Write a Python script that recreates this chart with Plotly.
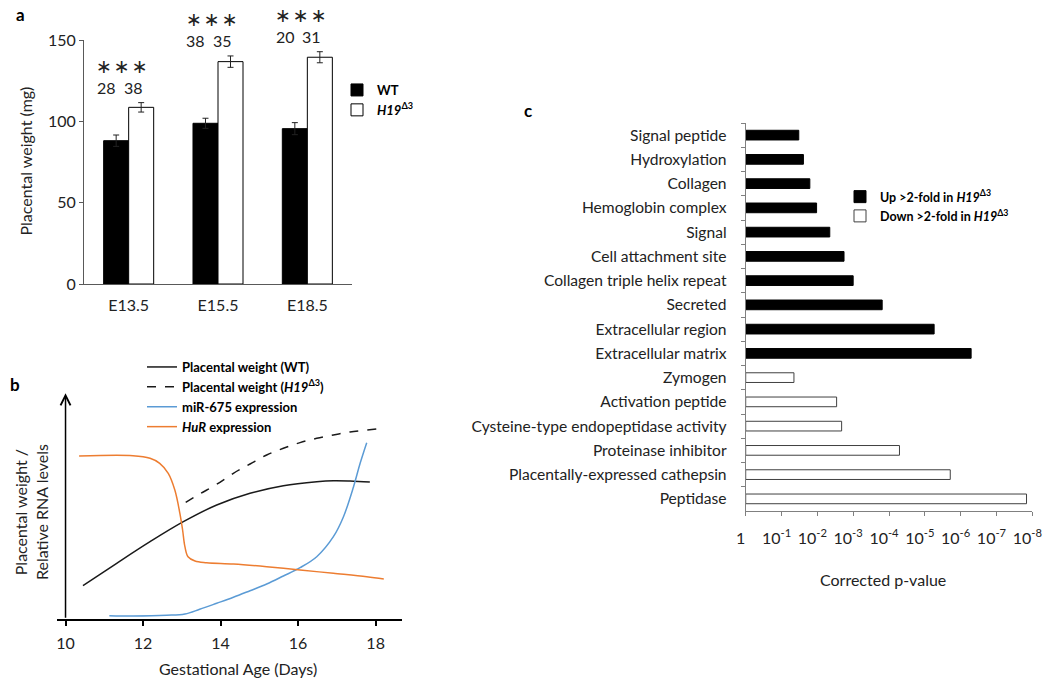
import plotly.graph_objects as go
import numpy as np

FONT = "Lato, Open Sans, sans-serif"

# ---------------- Panel a data ----------------
stages = ["E13.5", "E15.5", "E18.5"]
wt_weight = [88.1, 98.8, 95.5]
wt_err = [3.5, 3.1, 3.7]
h19_weight = [108.6, 136.7, 139.4]
h19_err = [2.9, 3.5, 3.4]
wt_n = [28, 38, 20]
h19_n = [38, 35, 31]
signif = ["∗∗∗", "∗∗∗", "∗∗∗"]
weight_max = 150

# ---------------- Panel b data (relative units) ----------------
wt_day = [10.45, 11.32, 12.18, 13.04, 13.90, 14.76, 15.62, 16.48, 16.91, 17.34, 17.85]
wt_level = [33.6, 56.0, 77.6, 97.6, 114.3, 126.0, 133.6, 137.6, 138.6, 138.3, 137.3]

h19_day = [13.10, 13.46, 13.90, 14.33, 14.76, 15.19, 15.62, 16.05, 16.48, 16.91, 17.34, 18.03]
h19_level = [117.0, 125.3, 135.0, 146.0, 155.3, 164.3, 171.0, 176.7, 181.0, 184.3, 187.3, 190.3]

mir_day = [11.13, 11.74, 12.61, 13.08, 13.46, 13.90, 14.33, 14.76, 15.19, 15.62, 16.05, 16.48, 16.91, 17.17, 17.43, 17.60, 17.77]
mir_level = [3.6, 3.3, 4.0, 5.3, 10.0, 16.0, 22.0, 28.6, 35.3, 43.3, 51.6, 62.6, 82.6, 102.6, 132.6, 156.0, 176.6]

hur_day = [10.35, 11.74, 12.18, 12.43, 12.65, 12.82, 12.95, 13.02, 13.08, 13.16, 13.34, 13.64, 14.33, 15.19, 16.05, 16.91, 17.77, 18.21]
hur_level = [163.3, 163.6, 161.0, 156.0, 146.0, 129.3, 106.0, 89.3, 72.6, 62.6, 58.3, 56.6, 55.3, 52.6, 49.3, 46.0, 42.6, 40.3]
level_max = 226

# ---------------- Panel c data ----------------
up_terms = ["Signal peptide", "Hydroxylation", "Collagen", "Hemoglobin complex", "Signal",
            "Cell attachment site", "Collagen triple helix repeat", "Secreted",
            "Extracellular region", "Extracellular matrix"]
up_pvalue = [3.3e-2, 2.45e-2, 1.62e-2, 1.05e-2, 4.5e-3, 1.8e-3, 1.0e-3, 1.55e-4, 5.5e-6, 5.1e-7]
down_terms = ["Zymogen", "Activation peptide", "Cysteine-type endopeptidase activity",
              "Proteinase inhibitor", "Placentally-expressed cathepsin", "Peptidase"]
down_pvalue = [4.5e-2, 2.9e-3, 2.1e-3, 5.1e-5, 1.95e-6, 1.45e-8]
p_ticks = [0, 1, 2, 3, 4, 5, 6, 7, 8]
p_ticktext = ["1"] + ["10<sup>-%d</sup>" % k for k in range(1, 9)]

fig = go.Figure()

# Panel a bars
fig.add_trace(go.Bar(
    x=stages, y=wt_weight, name="WT", width=0.28, offset=-0.28,
    marker=dict(color="black", line=dict(color="black", width=1)),
    error_y=dict(type="data", array=wt_err, color="#222", thickness=1, width=3),
    xaxis="x", yaxis="y", legend="legend"))
fig.add_trace(go.Bar(
    x=stages, y=h19_weight, name="<i>H19</i><sup>Δ3</sup>", width=0.28, offset=0,
    marker=dict(color="white", line=dict(color="black", width=1)),
    error_y=dict(type="data", array=h19_err, color="#222", thickness=1, width=3),
    xaxis="x", yaxis="y", legend="legend"))

# Panel b lines
fig.add_trace(go.Scatter(x=wt_day, y=wt_level, mode="lines", name="Placental weight (WT)",
                         line=dict(color="#1a1a1a", width=1.5, shape="spline"),
                         xaxis="x2", yaxis="y2", legend="legend2"))
fig.add_trace(go.Scatter(x=h19_day, y=h19_level, mode="lines",
                         name="Placental weight (<i>H19</i><sup>Δ3</sup>)",
                         line=dict(color="#1a1a1a", width=1.5, dash="dash", shape="spline"),
                         xaxis="x2", yaxis="y2", legend="legend2"))
fig.add_trace(go.Scatter(x=mir_day, y=mir_level, mode="lines", name="miR-675 expression",
                         line=dict(color="#5B9BD5", width=1.5, shape="spline"),
                         xaxis="x2", yaxis="y2", legend="legend2"))
fig.add_trace(go.Scatter(x=hur_day, y=hur_level, mode="lines", name="<i>HuR</i> expression",
                         line=dict(color="#ED7D31", width=1.5, shape="spline"),
                         xaxis="x2", yaxis="y2", legend="legend2"))

# Panel c bars
fig.add_trace(go.Bar(y=up_terms, x=[-np.log10(p) for p in up_pvalue], orientation="h",
                     name="Up >2-fold in <i>H19</i><sup>Δ3</sup>", width=0.4,
                     marker=dict(color="black", line=dict(color="black", width=1)),
                     xaxis="x3", yaxis="y3", legend="legend3"))
fig.add_trace(go.Bar(y=down_terms, x=[-np.log10(p) for p in down_pvalue], orientation="h",
                     name="Down >2-fold in <i>H19</i><sup>Δ3</sup>", width=0.4,
                     marker=dict(color="white", line=dict(color="#404040", width=1)),
                     xaxis="x3", yaxis="y3", legend="legend3"))

W, H = 1055, 681
def px(x):
    return x / W
def py(y):
    return 1 - y / H

def ann(text, x, y, size=16, color="#222", **kw):
    d = dict(text=text, x=x, y=y, xref="paper", yref="paper", showarrow=False,
             xanchor="center", yanchor="middle", font=dict(size=size, family=FONT, color=color))
    d.update(kw)
    return d

annotations = []
# panel labels
for lab, x, y in [("a", 20, 14), ("b", 15, 385), ("c", 528, 111)]:
    annotations.append(ann("<b>%s</b>" % lab, px(x), py(y), size=17, color="black"))
# axis titles
annotations.append(ann("Placental weight (mg)", px(25), py(161.5), textangle=-90))
annotations.append(ann("Placental weight /<br>Relative RNA levels", px(31), py(512), textangle=-90))
annotations.append(ann("Gestational Age (Days)", px(238), py(668)))
annotations.append(ann("Corrected p-value", px(883), py(579)))
# counts and significance in panel a (y in axis-domain fraction so they can sit above 150)
for i in range(len(stages)):
    top = h19_weight[i] + h19_err[i]
    for txt, dx in [(str(wt_n[i]), -0.25), (str(h19_n[i]), 0.05)]:
        annotations.append(dict(text=txt, x=i + dx, y=(top + 9.5) / weight_max, xref="x",
                                yref="y domain", showarrow=False, xanchor="center",
                                yanchor="middle", font=dict(size=16, family=FONT, color="#222")))
    annotations.append(dict(text="\u200a".join(signif[i]), x=i - 0.07,
                            y=(top + 22.5) / weight_max, xref="x", yref="y domain",
                            showarrow=False, xanchor="center", yanchor="middle",
                            font=dict(size=19, family="DejaVu Sans", color="#222")))
# y-axis arrow in panel b
annotations.append(dict(x=10, y=level_max, ax=10, ay=0, xref="x2", yref="y2", axref="x2",
                        ayref="y2", text="", showarrow=True, arrowhead=5, arrowwidth=1.5,
                        arrowsize=1.3, arrowcolor="black", standoff=0))

fig.update_layout(
    width=W, height=H, margin=dict(l=0, r=0, t=0, b=0, pad=0, autoexpand=False), autosize=False,
    paper_bgcolor="white", plot_bgcolor="white",
    barmode="overlay",
    font=dict(family=FONT, size=16, color="#222"),
    annotations=annotations,
    xaxis=dict(domain=[px(84), px(352)], anchor="y", range=[-0.5, 2.5], showline=True,
               linecolor="#595959", linewidth=1, ticks="", showgrid=False, zeroline=False,
               ticklabelstandoff=7, tickfont=dict(size=16)),
    yaxis=dict(domain=[py(284), py(40)], anchor="x", range=[0, weight_max], tickvals=[0, 50, 100, 150],
               showline=True, linecolor="#595959", linewidth=1, ticks="outside", ticklen=4,
               tickcolor="#595959", showgrid=False, zeroline=False, tickfont=dict(size=16)),
    xaxis2=dict(domain=[px(57), px(402)], anchor="y2", range=[9.78, 18.68],
                tickvals=[10, 12, 14, 16, 18], showline=True, linecolor="black", linewidth=1.5,
                ticks="outside", ticklen=5, tickwidth=1.5, tickcolor="black", showgrid=False,
                zeroline=False, ticklabelstandoff=4, tickfont=dict(size=16)),
    yaxis2=dict(domain=[py(619.3), py(393.3)], anchor="x2", range=[0, level_max], visible=False),
    xaxis3=dict(domain=[px(745.7), px(1032.3)], anchor="y3", range=[0, 8], tickvals=p_ticks,
                ticktext=p_ticktext, showline=True, linecolor="#808080", linewidth=1,
                ticks="outside", ticklen=4, tickcolor="#808080", showgrid=False, zeroline=False,
                ticklabelshift=-5, ticklabelstandoff=9, tickfont=dict(size=16)),
    yaxis3=dict(domain=[py(511), py(123)], anchor="x3", categoryorder="array",
                categoryarray=up_terms + down_terms, range=[15.5, -0.5], showline=True,
                linecolor="#808080", linewidth=1, ticks="outside", ticklen=4, tickcolor="#808080",
                tickson="boundaries", showgrid=False, zeroline=False, ticklabelstandoff=15,
                tickfont=dict(size=15.6)),
    legend=dict(x=px(337), y=py(75), xanchor="left", yanchor="top", bgcolor="rgba(0,0,0,0)",
                font=dict(size=13, family=FONT, color="black", weight="bold"), tracegroupgap=0),
    legend2=dict(x=px(142), y=py(352), xanchor="left", yanchor="top", bgcolor="rgba(0,0,0,0)",
                 font=dict(size=13, family=FONT, color="black", weight="bold"), tracegroupgap=0),
    legend3=dict(x=px(840), y=py(182), xanchor="left", yanchor="top", bgcolor="rgba(0,0,0,0)",
                 font=dict(size=12.5, family=FONT, color="black", weight="bold"), tracegroupgap=0),
)

fig.write_html("out.html", config={"displayModeBar": False},
               post_script="document.body.style.margin='0px';document.body.style.overflow='hidden';")
